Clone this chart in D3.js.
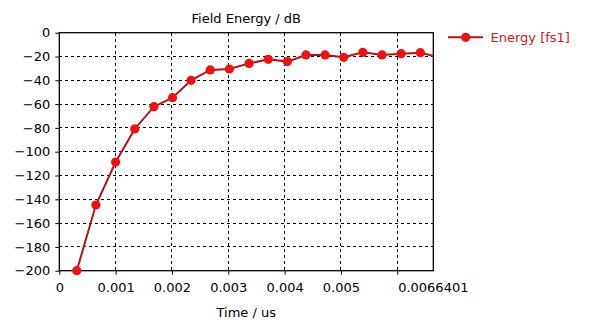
<!DOCTYPE html>
<html>
<head>
<meta charset="utf-8">
<script src="https://cdn.jsdelivr.net/npm/d3@7"></script>
<style>
  html, body { margin: 0; padding: 0; background: #fff; }
  svg { display: block; }
  text { font-family: "DejaVu Sans", Verdana, sans-serif; font-size: 13px; }
</style>
</head>
<body>
<svg id="chart" width="607" height="322"></svg>
<script>
// Field energy of port fs1 over simulation time (dB)
const timeUs = [0.00031, 0.00065, 0.00100, 0.00134, 0.00168, 0.00201, 0.00234, 0.00268,
                0.00302, 0.00337, 0.00371, 0.00405, 0.00438, 0.00472, 0.00505, 0.00539,
                0.00573, 0.00607, 0.00641, 0.00675];
const energyDb = [-200, -144.8, -108.7, -80.9, -62.2, -54.6, -40, -31.3,
                  -30.5, -25.8, -22.4, -24.3, -18.7, -18.7, -20.7, -16.5,
                  -18.7, -17.6, -16.8, -20.6];
const xTicks = [0, 0.001, 0.002, 0.003, 0.004, 0.005, 0.006];
const xTickLabels = ["0", "0.001", "0.002", "0.003", "0.004", "0.005", ""];
const xEndLabel = "0.0066401";
const xMax = 0.0066401;
const yTicks = [0, -20, -40, -60, -80, -100, -120, -140, -160, -180, -200];
const chartTitle = "Field Energy / dB";
const xAxisTitle = "Time / us";
const seriesName = "Energy [fs1]";

const lineColor = "#b3121c";
const markerColor = "#ee1111";
const legendTextColor = "#cc1b22";

const svg = d3.select("#chart");
const plot = { left: 59.3, top: 32.7, right: 433.3, bottom: 270.7 };

const x = d3.scaleLinear().domain([0, xMax]).range([plot.left, plot.right]);
const y = d3.scaleLinear().domain([-200, 0]).range([plot.bottom, plot.top]);

// dashed grid
const grid = svg.append("g").attr("stroke", "#000").attr("stroke-width", 1)
  .attr("stroke-dasharray", "3,3").attr("shape-rendering", "crispEdges");
grid.selectAll("line.gx").data(xTicks.filter(t => t > 0)).join("line")
  .attr("class", "gx")
  .attr("x1", d => x(d)).attr("x2", d => x(d))
  .attr("y1", plot.top).attr("y2", plot.bottom);
grid.selectAll("line.gy").data(yTicks.filter(t => t > -200 && t < 0)).join("line")
  .attr("class", "gy")
  .attr("x1", plot.left).attr("x2", plot.right)
  .attr("y1", d => y(d)).attr("y2", d => y(d));

// plot frame
svg.append("rect")
  .attr("x", plot.left).attr("y", plot.top)
  .attr("width", plot.right - plot.left).attr("height", plot.bottom - plot.top)
  .attr("fill", "none").attr("stroke", "#000").attr("stroke-width", 1.3);

// axes
const xAxis = d3.axisBottom(x).tickValues(xTicks)
  .tickFormat((d, i) => xTickLabels[i]).tickSize(4).tickPadding(8);
const gx = svg.append("g").attr("transform", `translate(0,${plot.bottom})`).call(xAxis);
gx.select(".domain").remove();
gx.selectAll("text").attr("font-size", 13).attr("font-family", "DejaVu Sans").attr("fill", "#000");
gx.selectAll("line").attr("stroke", "#000");
gx.append("text")
  .attr("x", x(xMax)).attr("y", 21)
  .attr("text-anchor", "middle").attr("fill", "#000")
  .text(xEndLabel);

const yAxis = d3.axisLeft(y).tickValues(yTicks).tickFormat(d3.format("d")).tickSize(4).tickPadding(5);
const gy = svg.append("g").attr("transform", `translate(${plot.left},0)`).call(yAxis);
gy.select(".domain").remove();
gy.selectAll("text").attr("font-size", 13).attr("font-family", "DejaVu Sans").attr("fill", "#000");
gy.selectAll("line").attr("stroke", "#000");

// titles
svg.append("text")
  .attr("x", (plot.left + plot.right) / 2).attr("y", 22.5)
  .attr("text-anchor", "middle").attr("fill", "#000")
  .text(chartTitle);
svg.append("text")
  .attr("x", (plot.left + plot.right) / 2).attr("y", 316.5)
  .attr("text-anchor", "middle").attr("fill", "#000")
  .text(xAxisTitle);

// series
svg.append("clipPath").attr("id", "plotClip").append("rect")
  .attr("x", plot.left - 6).attr("y", plot.top - 6)
  .attr("width", plot.right - plot.left + 6).attr("height", plot.bottom - plot.top + 12);

const points = timeUs.map((t, i) => ({ t, v: energyDb[i] }));
const series = svg.append("g").attr("clip-path", "url(#plotClip)");
series.append("path")
  .datum(points)
  .attr("fill", "none").attr("stroke", lineColor).attr("stroke-width", 2)
  .attr("d", d3.line().x(d => x(d.t)).y(d => y(d.v)));
series.selectAll("circle").data(points).join("circle")
  .attr("cx", d => x(d.t)).attr("cy", d => y(d.v)).attr("r", 4.6)
  .attr("fill", markerColor);

// legend
const lg = svg.append("g").attr("transform", "translate(448,37.3)");
lg.append("line").attr("x1", 0).attr("x2", 35).attr("y1", 0).attr("y2", 0)
  .attr("stroke", lineColor).attr("stroke-width", 2);
lg.append("circle").attr("cx", 17.7).attr("cy", 0).attr("r", 4.6).attr("fill", markerColor);
lg.append("text").attr("x", 42.5).attr("y", 4.8)
  .attr("fill", legendTextColor).text(seriesName);
</script>
</body>
</html>
